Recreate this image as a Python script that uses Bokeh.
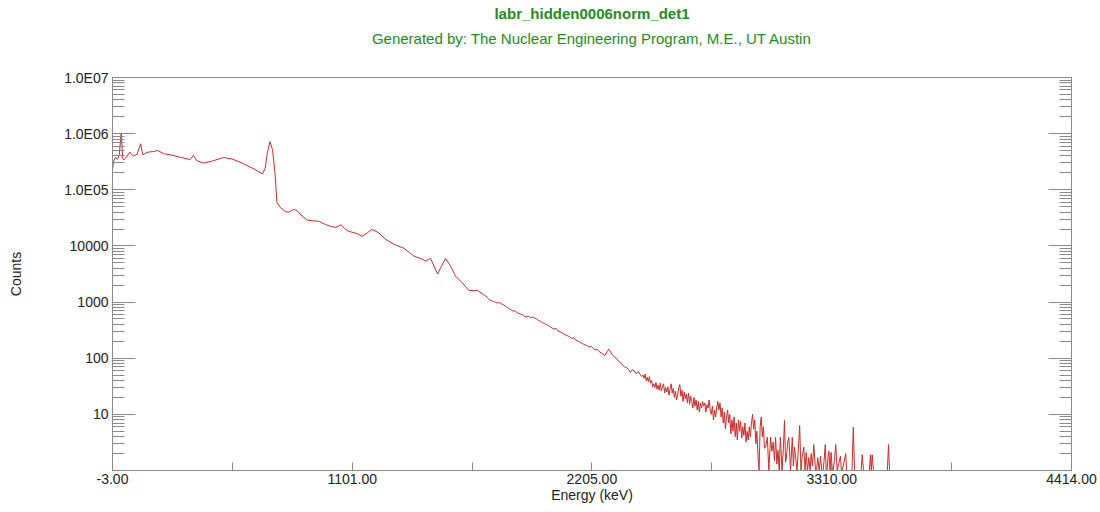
from bokeh.plotting import figure
from bokeh.models import Range1d, FixedTicker, LogAxis, LinearAxis, PrintfTickFormatter
from bokeh.embed import file_html
from bokeh.resources import INLINE

TITLE = "labr_hidden0006norm_det1"
SUBTITLE = "Generated by: The Nuclear Engineering Program, M.E., UT Austin"
X_LABEL = "Energy (keV)"
Y_LABEL = "Counts"

x_ticks = [-3, 1101, 2205, 3310, 4414]
x_minor_ticks = [549, 1653, 2757, 3862]
y_ticks = [10, 100, 1000, 10000, 100000, 1000000, 10000000]
y_tick_labels = ["10", "100", "1000", "10000", "1.0E05", "1.0E06", "1.0E07"]

# spectrum: energy (keV) and counts
energy = [
    -3, 2, 11, 20, 28, 37, 44, 50, 60, 77, 86, 94, 110, 127, 133, 137, 150, 163, 185, 206,
    232, 270, 309, 355, 370, 385, 416, 454, 508, 547, 593, 654, 688, 700, 710, 722, 734, 746,
    754, 771, 794, 809, 822, 835, 848, 871, 894, 920, 947, 978, 1000, 1024, 1037, 1050, 1065,
    1085, 1124, 1147, 1170, 1190, 1201, 1224, 1254, 1293, 1339, 1385, 1420, 1439, 1462, 1477,
    1495, 1508, 1531, 1554, 1577, 1608, 1638, 1660, 1677, 1707,
    1716, 1725, 1734, 1743, 1752, 1761, 1770, 1779, 1788, 1797, 1806, 1815, 1824, 1833, 1842,
    1851, 1860, 1869, 1878, 1887, 1896, 1905, 1914, 1923, 1932, 1941, 1950, 1959, 1968, 1977,
    1986, 1995, 2004, 2013, 2022, 2031, 2040, 2049, 2058, 2067, 2076, 2085, 2094, 2103, 2112,
    2121, 2130, 2139, 2148, 2157, 2166, 2175, 2184, 2193, 2202, 2211, 2220, 2229, 2238, 2247,
    2256, 2265, 2274, 2283, 2292, 2301, 2310, 2319, 2328, 2337, 2346, 2355, 2364, 2373, 2382,
    2391, 2400, 2409, 2418, 2427, 2434,
    2440, 2445, 2450, 2455, 2460, 2465, 2470, 2475, 2480, 2485, 2490, 2495, 2500, 2505, 2510,
    2515, 2520, 2525, 2530, 2535, 2540, 2545, 2550, 2555, 2560, 2565, 2570, 2575, 2580, 2585,
    2590, 2595, 2600, 2605, 2610, 2615, 2620, 2625, 2630, 2635, 2640, 2645, 2650, 2655, 2660,
    2665, 2670, 2675, 2680, 2685, 2690, 2695, 2700, 2705,
    2710, 2715, 2720, 2725, 2730, 2735, 2740, 2745, 2750, 2755, 2760, 2765, 2770, 2775, 2780,
    2785, 2790, 2795, 2800, 2805, 2810, 2815, 2820, 2825, 2830, 2835, 2840, 2845, 2850, 2855,
    2860, 2865, 2870, 2875, 2880, 2885, 2890, 2895, 2900, 2905, 2910, 2915, 2920, 2925, 2930,
    2935, 2940, 2945, 2950, 2955, 2960, 2965, 2970, 2975, 2980, 2985, 2990, 2995, 3000,
    3005, 3013, 3020, 3028, 3034, 3040, 3046, 3051, 3057, 3062, 3068, 3073, 3081, 3087, 3092,
    3097, 3101, 3107, 3112, 3120, 3128, 3133, 3138, 3144, 3150, 3156, 3162, 3168, 3173, 3181,
    3187, 3192, 3198, 3204, 3210, 3215, 3221, 3227, 3235, 3240, 3245, 3252, 3258, 3264, 3270,
    3275, 3280, 3284, 3288, 3293, 3297, 3302, 3307, 3312, 3316, 3322, 3328, 3335, 3350, 3354,
    3358, 3374, 3378, 3381, 3403, 3409, 3415, 3445, 3450, 3456, 3483, 3488, 3492, 3496, 3502,
    3566, 3571, 3576, 4414,
]
counts = [
    229000, 320000, 380000, 350000, 420000, 1020000, 360000, 340000, 380000, 470000, 420000,
    400000, 430000, 660000, 480000, 420000, 450000, 470000, 480000, 500000,
    440000, 415000, 380000, 345000, 410000, 330000, 300000, 322000, 375000, 355000, 300000,
    230000, 192000, 240000, 450000, 720000, 520000, 190000,
    60000, 48000, 40700, 40000, 43000, 44700, 42000, 33900, 28800, 28000, 27500, 24000, 22500,
    21400, 22500, 24000, 20500,
    18200, 16600, 14800, 17000, 19500, 19100, 17000, 13200, 10700, 9100, 6600, 5900, 5400,
    6000, 4400,
    3160, 4070, 6000, 4400, 2900, 2200, 1620, 1600, 1620, 1350,
    1290, 1180, 1090, 1060, 1020, 1000, 960, 985, 930, 900, 850, 800, 770, 725, 690,
    700, 650, 625, 610, 590, 555, 545, 560, 530, 540, 520, 505, 470, 455, 430,
    415, 400, 385, 360, 345, 330, 340, 305, 295, 285, 270, 258, 250, 240, 225,
    232, 210, 205, 195, 185, 178, 172, 165, 158, 162, 150, 140, 145, 132, 125,
    118, 112, 130, 145, 128, 112, 105, 98, 88, 84, 76, 70, 68, 64, 56,
    62, 60, 53, 58, 52, 47,
    50, 44, 52, 40, 46, 38, 47, 36, 40, 31, 35, 30, 37, 28, 33,
    27, 36, 26, 31, 35, 24, 30, 25, 31, 22, 28, 35, 24, 29, 20,
    26, 18, 22, 30, 34, 21, 27, 17, 25, 19, 23, 16, 24, 15, 21,
    17, 13, 20, 14, 18, 12, 17, 11, 16,
    13, 17, 14, 16, 11, 15, 13, 18, 12, 10, 14, 8, 12, 9, 13,
    17, 12, 16, 9, 13, 7, 11, 5.5, 9, 12, 7, 10, 4.5, 8, 5,
    9, 4, 7, 3.5, 8, 5, 7.5, 3.8, 6, 4.2, 7, 3.2, 5, 3.5, 6,
    4, 7, 10, 5.5, 8, 3, 5, 1.8, 1, 6, 9, 4, 6, 2.5,
    2.6, 3.9, 1, 3.9, 2.2, 3.2, 1.5, 3.9, 1.3, 2.3, 1, 3.9, 1, 2.5, 7.8,
    1.4, 1.7, 3.2, 3.9, 1, 3.9, 1.2, 2.6, 1.6, 1, 2.4, 6.3, 1, 1.7, 2.6,
    1, 2.1, 1, 1.7, 1, 2, 1.2, 2.9, 1, 1, 1.7, 1, 1.8, 1, 1,
    1.6, 2.9, 1, 1, 1.8, 2.2, 1, 2.1, 1, 1, 1.5, 2.9, 1, 1.8, 1,
    1, 2, 1, 1, 1, 5.9, 1, 1, 1.9, 1, 1, 1.9, 1, 1.9, 1,
    1, 2.9, 1, 1,
]

FONT = "Liberation Sans"
AXIS_GRAY = "#8a8a8a"
GREEN = "#238b23"

p = figure(
    width=1100, height=512, y_axis_type="log",
    x_range=Range1d(-3, 4414), y_range=Range1d(1, 1e7),
    output_backend="svg", toolbar_location=None,
    min_border_left=112, min_border_right=29, min_border_top=77, min_border_bottom=42,
)
xa = p.below[0]
ya = p.left[0]

def title_axis(text, bold, standoff):
    ax = LinearAxis(ticker=FixedTicker(ticks=[]))
    ax.axis_line_color = None
    ax.major_tick_line_color = None
    ax.minor_tick_line_color = None
    ax.major_tick_out = 0
    ax.major_tick_in = 0
    ax.minor_tick_out = 0
    ax.minor_tick_in = 0
    ax.major_label_standoff = 0
    ax.axis_label = text
    ax.axis_label_standoff = standoff
    ax.axis_label_text_font = FONT
    ax.axis_label_text_font_size = "15px"
    ax.axis_label_text_font_style = "bold" if bold else "normal"
    ax.axis_label_text_color = GREEN
    return ax

# inner (closest to the frame) first, then the outer title line
p.add_layout(title_axis(SUBTITLE, False, 31), "above")
p.add_layout(title_axis(TITLE, True, 5), "above")

p.xgrid.visible = False
p.ygrid.visible = False
p.outline_line_color = AXIS_GRAY
p.outline_line_width = 1
p.background_fill_color = "white"
p.border_fill_color = "white"

minor_y = [m * 10 ** d for d in range(0, 7) for m in range(2, 10)]

def style_axis(ax):
    ax.axis_line_color = AXIS_GRAY
    ax.major_tick_line_color = AXIS_GRAY
    ax.minor_tick_line_color = AXIS_GRAY
    ax.major_label_text_font = FONT
    ax.major_label_text_font_size = "14px"
    ax.major_label_text_color = "#222222"
    ax.axis_label_text_font = FONT
    ax.axis_label_text_font_size = "14px"
    ax.axis_label_text_font_style = "normal"
    ax.axis_label_text_color = "#222222"

style_axis(xa)
xa.ticker = FixedTicker(ticks=x_ticks, minor_ticks=x_minor_ticks)
xa.formatter = PrintfTickFormatter(format="%.2f")
xa.major_tick_in = 8
xa.major_tick_out = 0
xa.minor_tick_in = 8
xa.minor_tick_out = 0
xa.major_label_standoff = 3
xa.axis_label = X_LABEL
xa.axis_label_standoff = 0

style_axis(ya)
ya.ticker = FixedTicker(ticks=y_ticks, minor_ticks=minor_y)
ya.major_label_overrides = {t: lab for t, lab in zip(y_ticks, y_tick_labels)}
ya.major_tick_in = 23
ya.major_tick_out = 0
ya.minor_tick_in = 12
ya.minor_tick_out = 0
ya.major_label_standoff = 4
ya.axis_label = Y_LABEL
ya.axis_label_standoff = 37

ra = LogAxis(ticker=FixedTicker(ticks=y_ticks, minor_ticks=minor_y))
style_axis(ra)
ra.major_label_overrides = {t: "" for t in y_ticks}
ra.major_label_text_alpha = 0
ra.major_tick_in = 23
ra.major_tick_out = 0
ra.minor_tick_in = 12
ra.minor_tick_out = 0
ra.major_label_standoff = 0
p.add_layout(ra, "right")

p.line(energy, counts, line_color="#cc2a2a", line_width=1)

open("out.html", "w").write(file_html(p, INLINE))
